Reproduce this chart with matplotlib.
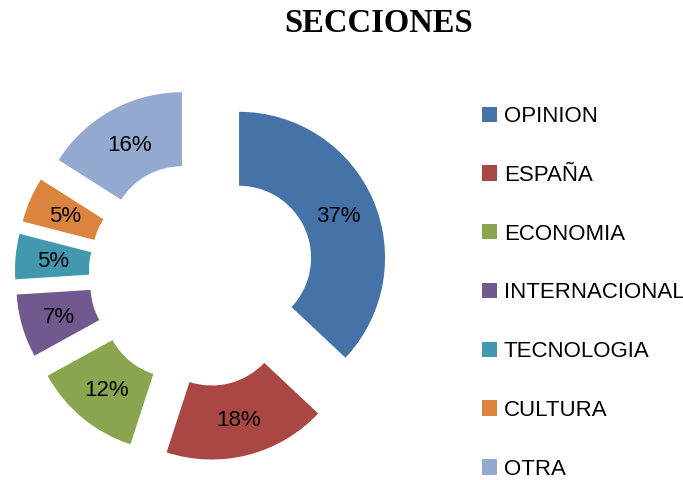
import matplotlib.pyplot as plt

secciones = ['OPINION', 'ESPAÑA', 'ECONOMIA', 'INTERNACIONAL', 'TECNOLOGIA', 'CULTURA', 'OTRA']
porcentajes = [37, 18, 12, 7, 5, 5, 16]
colores = ['#4572A7', '#AA4643', '#89A54E', '#71588F', '#4198AF', '#DB843D', '#93A9CF']

W, H = 683, 480
fig = plt.figure(figsize=(W / 100, H / 100), dpi=100)
ax = fig.add_axes([0, 0, 1, 1])

# axes units are pixels, y pointing up
wedges, texts, autotexts = ax.pie(
    porcentajes, colors=colores, startangle=90, counterclock=False,
    center=(201.6, H - 274), radius=146, explode=[40.8] * len(porcentajes),
    wedgeprops=dict(width=74, linewidth=0), autopct='%1.0f%%', pctdistance=0.74,
    textprops=dict(family='Liberation Sans', fontsize=16, color='black'))
for t in autotexts:
    x, y = t.get_position()
    t.set_position((x, y - 2))

ax.set_xlim(0, W)
ax.set_ylim(0, H)
ax.set_aspect('auto')
ax.axis('off')

fig.text(379 / W, 1 - 24 / H, 'SECCIONES', ha='center', va='center',
         family='Liberation Serif', fontweight='bold', fontsize=23.5)

ax.legend(wedges, secciones, loc='upper left', bbox_to_anchor=(482 / W, 1 - 106 / H),
          frameon=False, borderpad=0, borderaxespad=0, handlelength=0.68, handleheight=0.68,
          handletextpad=0.3, labelspacing=1.70,
          prop=dict(family='Liberation Sans', size=16))

fig.savefig('out.png', dpi=100)
